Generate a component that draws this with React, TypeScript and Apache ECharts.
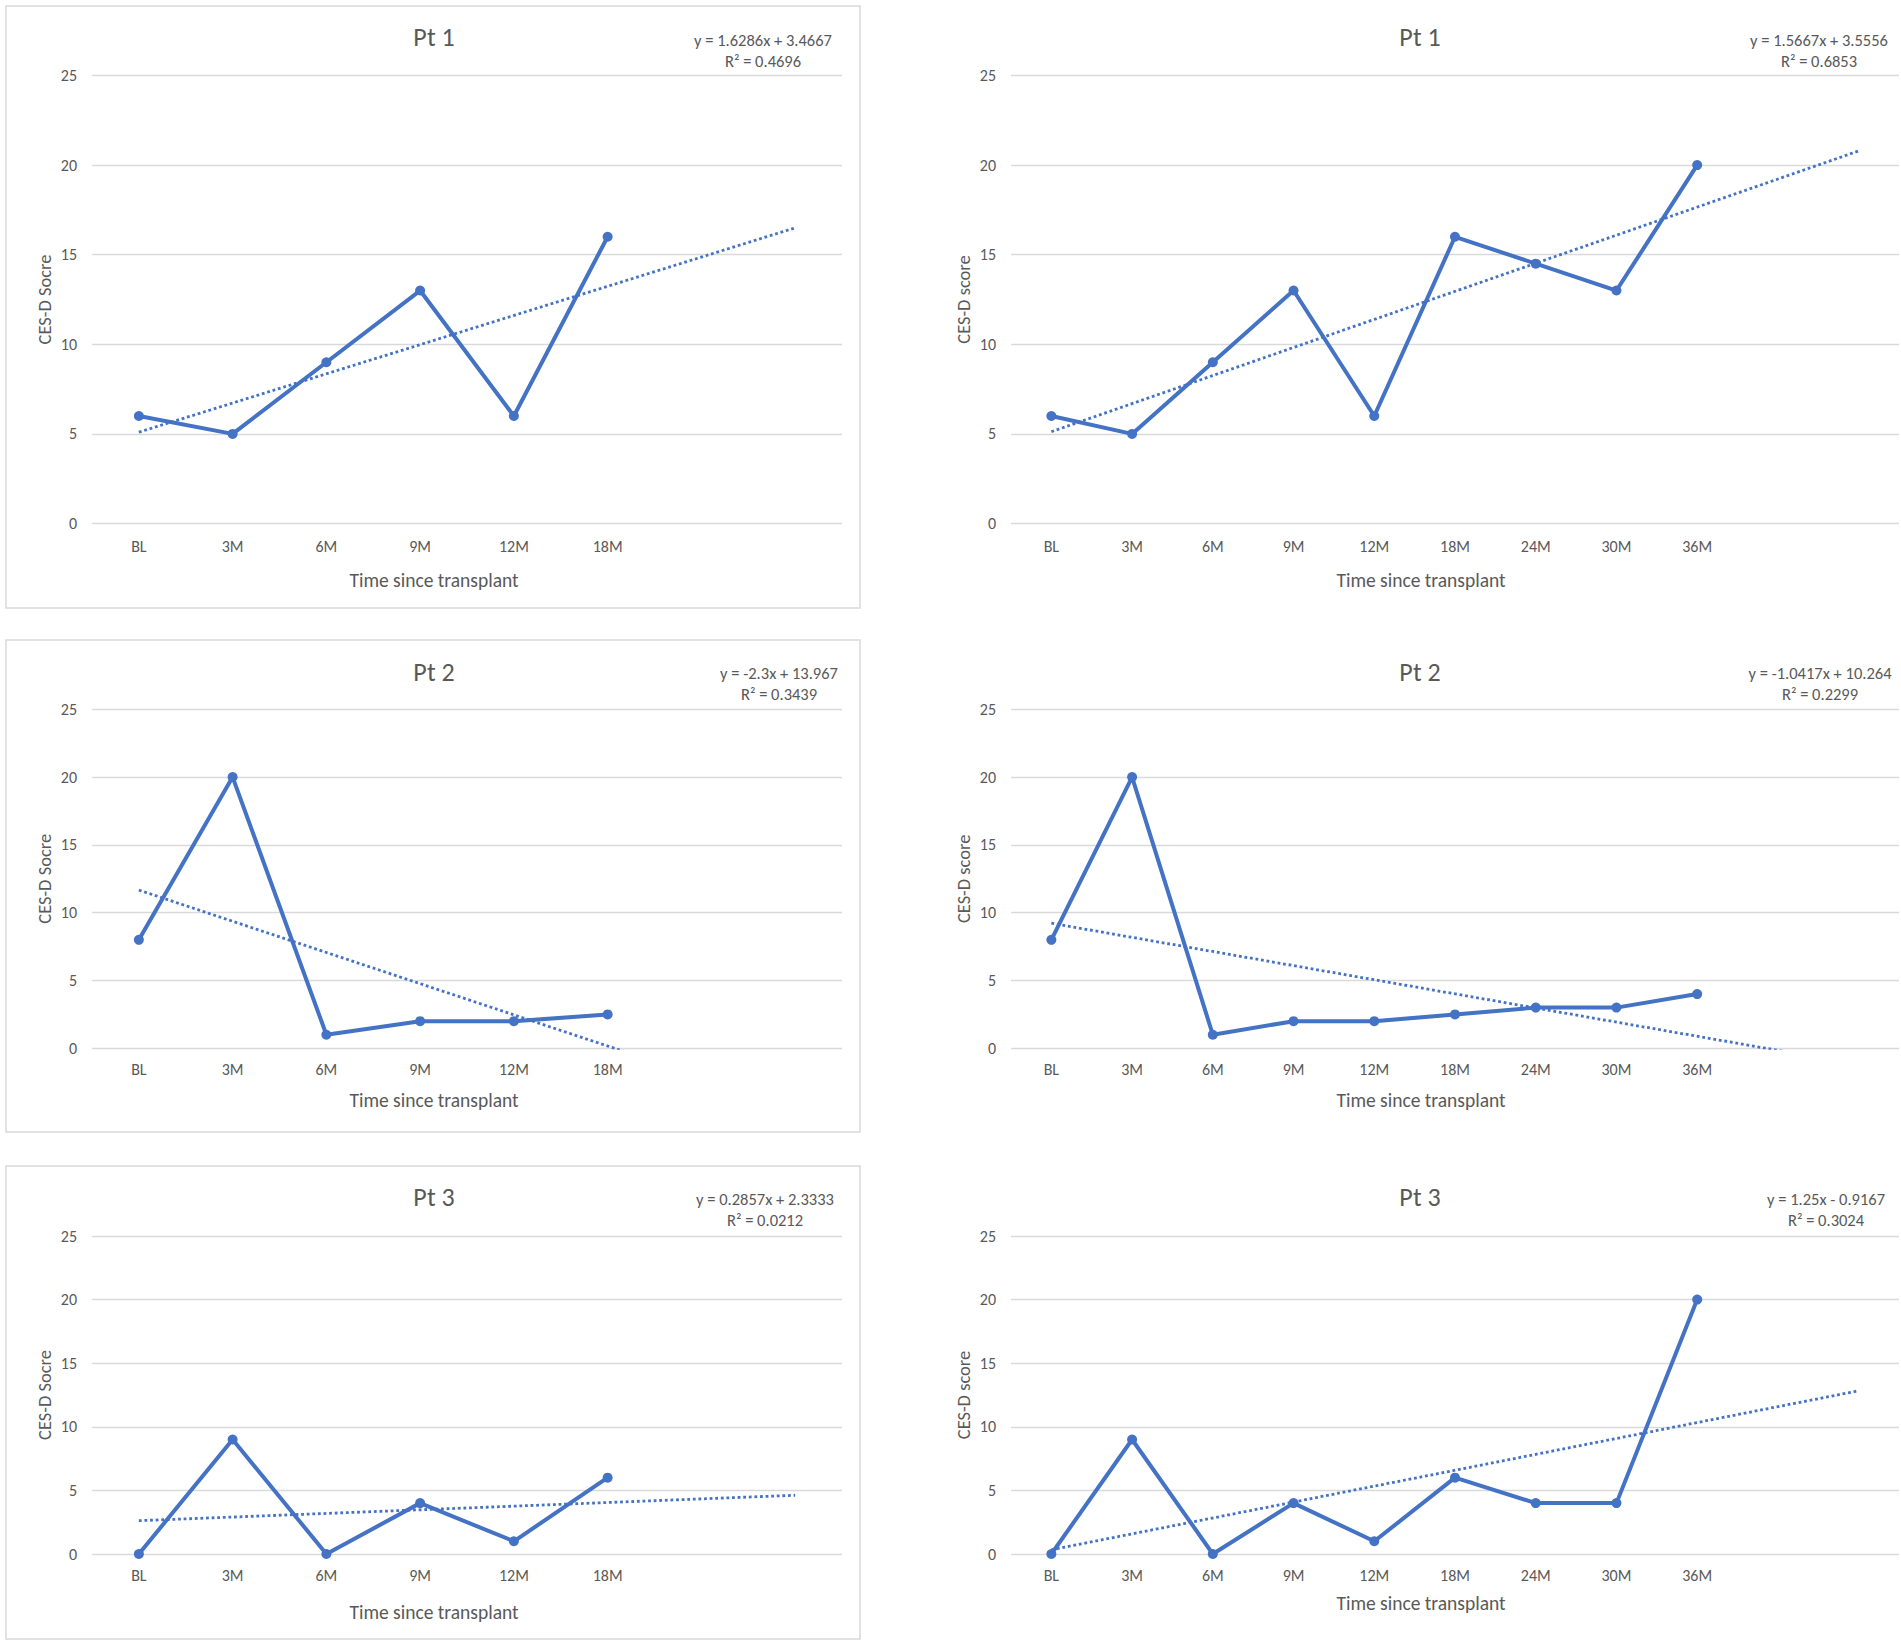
import React, { useEffect, useRef } from "react";
import * as echarts from "echarts";

// ---- data ----
const timepointsShort = ["BL", "3M", "6M", "9M", "12M", "18M"];
const timepointsLong = ["BL", "3M", "6M", "9M", "12M", "18M", "24M", "30M", "36M"];
const forecastPeriods = 2;

const pt1Short = [6, 5, 9, 13, 6, 16];
const pt1Long = [6, 5, 9, 13, 6, 16, 14.5, 13, 20];
const pt2Short = [8, 20, 1, 2, 2, 2.5];
const pt2Long = [8, 20, 1, 2, 2, 2.5, 3, 3, 4];
const pt3Short = [0, 9, 0, 4, 1, 6];
const pt3Long = [0, 9, 0, 4, 1, 6, 4, 4, 20];

// trendline equations printed on the chart: [slope, intercept]
const trendPt1Short = [1.6286, 3.4667];
const trendPt1Long = [1.5667, 3.5556];
const trendPt2Short = [-2.3, 13.967];
const trendPt2Long = [-1.0417, 10.264];
const trendPt3Short = [0.2857, 2.3333];
const trendPt3Long = [1.25, -0.9167];

const eqPt1Short = ["y = 1.6286x + 3.4667", "R² = 0.4696"];
const eqPt1Long = ["y = 1.5667x + 3.5556", "R² = 0.6853"];
const eqPt2Short = ["y = -2.3x + 13.967", "R² = 0.3439"];
const eqPt2Long = ["y = -1.0417x + 10.264", "R² = 0.2299"];
const eqPt3Short = ["y = 0.2857x + 2.3333", "R² = 0.0212"];
const eqPt3Long = ["y = 1.25x - 0.9167", "R² = 0.3024"];

const titles = ["Pt 1", "Pt 2", "Pt 3"];
const yNames = ["CES-D Socre", "CES-D score"];
const xName = "Time since transplant";
const yTicks = { min: 0, max: 25, interval: 5 };

// ---- styling / layout ----
const BLUE = "#4472C4";
const TEXT = "#595959";
const GRID = "#d9d9d9";
const FONT = "Carlito, 'Liberation Sans', Arial, sans-serif";

const colLeft = [92, 1011];
const colWidth = [750, 888];
const rowTop = [75.5, 709.3, 1236];
const rowHeight = [448, 339, 318];
const titleX = [434, 1420];
const titleY = [37, 672, 1197];
const eqX = [
  [763, 1819],
  [779, 1820],
  [765, 1826],
];
const eqY = [40, 673, 1199];
const xNameX = [434, 1421];
const xNameY = [
  [580, 580],
  [1100, 1100],
  [1612, 1603],
];
const xLabelMargin = [23, 21, 21];
const borders = [
  [6, 6, 854, 602],
  [6, 640, 854, 492],
  [6, 1166, 854, 473],
];

const panels = [
  { row: 0, col: 0, cats: timepointsShort, values: pt1Short, trend: trendPt1Short, eq: eqPt1Short },
  { row: 0, col: 1, cats: timepointsLong, values: pt1Long, trend: trendPt1Long, eq: eqPt1Long },
  { row: 1, col: 0, cats: timepointsShort, values: pt2Short, trend: trendPt2Short, eq: eqPt2Short },
  { row: 1, col: 1, cats: timepointsLong, values: pt2Long, trend: trendPt2Long, eq: eqPt2Long },
  { row: 2, col: 0, cats: timepointsShort, values: pt3Short, trend: trendPt3Short, eq: eqPt3Short },
  { row: 2, col: 1, cats: timepointsLong, values: pt3Long, trend: trendPt3Long, eq: eqPt3Long },
];

function buildOption() {
  const grid: any[] = [];
  const xAxis: any[] = [];
  const yAxis: any[] = [];
  const series: any[] = [];
  const graphic: any[] = [];

  borders.forEach(([x, y, w, h]) => {
    graphic.push({
      type: "rect",
      shape: { x, y, width: w, height: h },
      style: { fill: "none", stroke: GRID, lineWidth: 1.5 },
      silent: true,
    });
  });

  panels.forEach((p, i) => {
    const cats = [...p.cats];
    for (let k = 0; k < forecastPeriods; k++) cats.push(" ".repeat(k + 1));
    const n = cats.length;

    grid.push({
      left: colLeft[p.col],
      top: rowTop[p.row],
      width: colWidth[p.col],
      height: rowHeight[p.row],
      containLabel: false,
    });
    xAxis.push({
      type: "category",
      gridIndex: i,
      data: cats,
      boundaryGap: true,
      axisLine: { show: false },
      axisTick: { show: false },
      axisLabel: {
        color: TEXT,
        fontSize: 16,
        fontFamily: FONT,
        interval: 0,
        margin: xLabelMargin[p.row],
        verticalAlign: "middle",
      },
    });
    yAxis.push({
      type: "value",
      gridIndex: i,
      min: yTicks.min,
      max: yTicks.max,
      interval: yTicks.interval,
      axisLine: { show: false },
      axisTick: { show: false },
      splitLine: { show: true, lineStyle: { color: GRID, width: 1.3 } },
      axisLabel: { color: TEXT, fontSize: 16, fontFamily: FONT, margin: 15 },
      name: yNames[p.col],
      nameLocation: "middle",
      nameGap: 48,
      nameTextStyle: {
        color: TEXT,
        fontSize: 18.5,
        fontFamily: FONT,
        verticalAlign: "middle",
      },
    });

    series.push({
      type: "line",
      xAxisIndex: i,
      yAxisIndex: i,
      data: p.values,
      symbol: "circle",
      symbolSize: 10,
      lineStyle: { color: BLUE, width: 4 },
      itemStyle: { color: BLUE },
      z: 3,
    });

    const [slope, intercept] = p.trend;
    const trendData: (number | null)[] = new Array(n).fill(null);
    trendData[0] = slope * 1 + intercept;
    trendData[n - 1] = slope * n + intercept;
    series.push({
      type: "line",
      xAxisIndex: i,
      yAxisIndex: i,
      data: trendData,
      connectNulls: true,
      showSymbol: false,
      symbol: "none",
      clip: true,
      lineStyle: { color: BLUE, width: 2.8, type: [2.8, 2.8] },
      z: 4,
      silent: true,
    });

    graphic.push({
      type: "text",
      x: titleX[p.col],
      y: titleY[p.row],
      style: {
        text: titles[p.row],
        fill: TEXT,
        fontSize: 26,
        fontFamily: FONT,
        align: "center",
        verticalAlign: "middle",
      },
    });
    graphic.push({
      type: "text",
      x: xNameX[p.col],
      y: xNameY[p.row][p.col],
      style: {
        text: xName,
        fill: TEXT,
        fontSize: 19.5,
        fontFamily: FONT,
        align: "center",
        verticalAlign: "middle",
      },
    });
    p.eq.forEach((line, li) => {
      graphic.push({
        type: "text",
        x: eqX[p.row][p.col],
        y: eqY[p.row] + li * 21,
        style: {
          text: line,
          fill: TEXT,
          fontSize: 16.5,
          fontFamily: FONT,
          align: "center",
          verticalAlign: "middle",
        },
      });
    });
  });

  return {
    animation: false,
    backgroundColor: "#ffffff",
    grid,
    xAxis,
    yAxis,
    series,
    graphic,
  };
}

export default function App() {
  const ref = useRef<HTMLDivElement>(null);
  useEffect(() => {
    if (!ref.current) return;
    const chart = echarts.init(ref.current, undefined, { renderer: "svg" });
    chart.setOption(buildOption());
    return () => chart.dispose();
  }, []);
  return (
    <div
      ref={ref}
      style={{ position: "absolute", left: 0, top: 0, width: 1901, height: 1643, background: "#fff" }}
    />
  );
}
